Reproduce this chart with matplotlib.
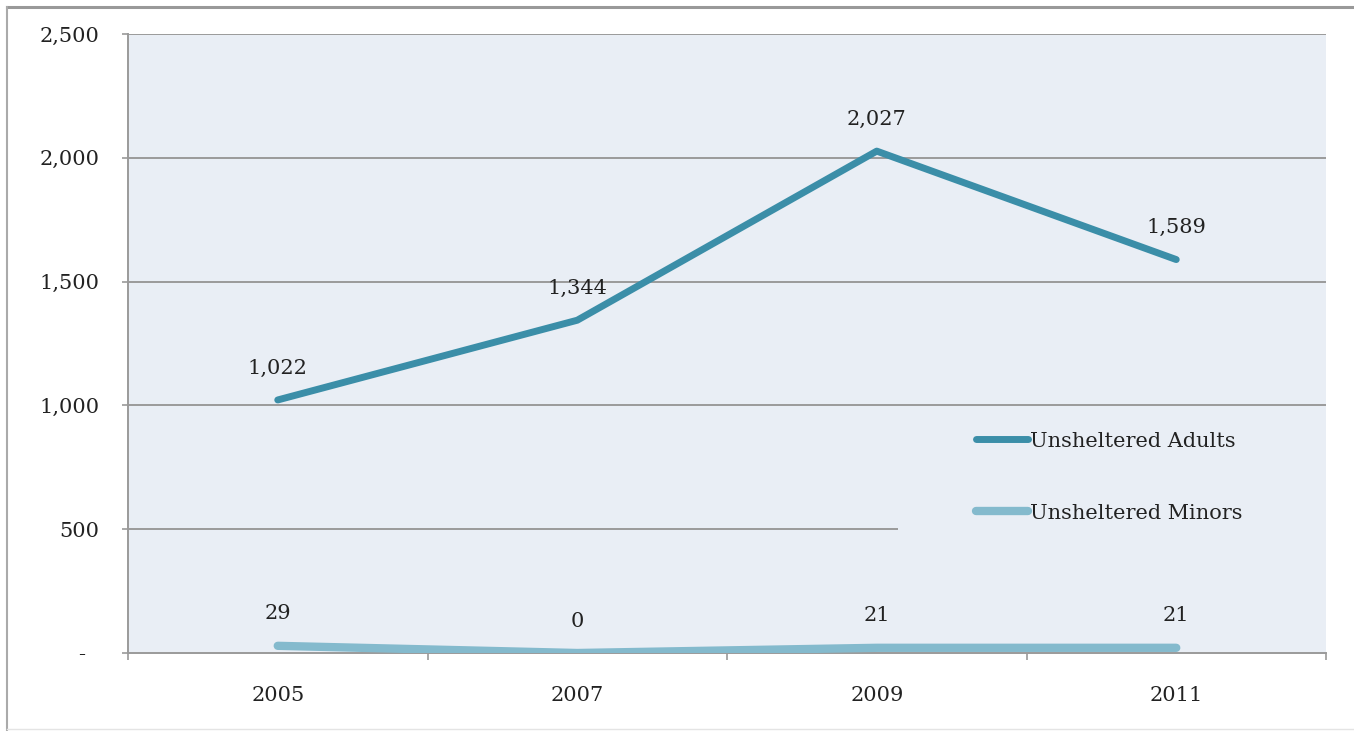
import matplotlib

matplotlib.use("Agg")
import matplotlib.pyplot as plt
from matplotlib.lines import Line2D
from matplotlib.patches import Rectangle

# ---------------------------------------------------------------------------
# data
# ---------------------------------------------------------------------------
years = ["2005", "2007", "2009", "2011"]
adults = [1022, 1344, 2027, 1589]
minors = [29, 0, 21, 21]
y_ticks = [0, 500, 1000, 1500, 2000, 2500]
y_tick_labels = ["-  ", "500", "1,000", "1,500", "2,000", "2,500"]

ADULT_C = "#3b8ea8"
MINOR_C = "#84bacd"
BG = "#e9eef5"
GRID = "#9a9a9a"
TXT = "#222222"

plt.rcParams["font.family"] = ["DejaVu Serif"]

W, H = 1354, 731
fig = plt.figure(figsize=(W / 100, H / 100), dpi=100)

# outer frame: top and left edges, faint bottom
fig.add_artist(Line2D([7 / W, 1.0], [1 - 7 / H, 1 - 7 / H], transform=fig.transFigure,
                      color="#999999", linewidth=2.2))
fig.add_artist(Line2D([7 / W, 7 / W], [0, 1 - 7 / H], transform=fig.transFigure,
                      color="#aaaaaa", linewidth=1.5))
fig.add_artist(Line2D([7 / W, 1.0], [2 / H, 2 / H], transform=fig.transFigure,
                      color="#e4e4e4", linewidth=1.0))

ax = fig.add_axes([128 / W, 1 - 653 / H, 1198 / W, 619 / H])
ax.set_facecolor(BG)

x = list(range(len(years)))
ax.set_xlim(-0.5, len(years) - 0.5)
ax.set_ylim(0, 2500)

for v in y_ticks[1:]:
    ax.axhline(v, color=GRID, linewidth=1.4, zorder=1)

# legend background patch hides the grid behind it
ax.add_patch(Rectangle((0.643, 0.13), 0.357, 0.262, transform=ax.transAxes,
                       facecolor=BG, edgecolor="none", zorder=1.5))

ax.plot(x, adults, color=ADULT_C, linewidth=5.0, solid_capstyle="round", zorder=3,
        label="Unsheltered Adults")
ax.plot(x, minors, color=MINOR_C, linewidth=6.0, solid_capstyle="round", zorder=3,
        label="Unsheltered Minors")

for xi, v in zip(x, adults):
    ax.annotate(f"{v:,}", (xi, v), xytext=(0, 23), textcoords="offset points",
                ha="center", va="center", fontsize=15, color=TXT)
for xi, v in zip(x, minors):
    ax.annotate(f"{v:,}", (xi, v), xytext=(0, 23), textcoords="offset points",
                ha="center", va="center", fontsize=15, color=TXT)

ax.set_yticks(y_ticks)
ax.set_yticklabels(y_tick_labels, fontsize=15, color=TXT)
ax.set_xticks(x)
ax.set_xticklabels(years, fontsize=15, color=TXT)
ax.set_xticks([i - 0.5 for i in range(len(years) + 1)], minor=True)
ax.tick_params(axis="x", which="major", length=0, pad=24)
ax.tick_params(axis="x", which="minor", length=5, color=GRID, width=1.2, direction="out")
ax.tick_params(axis="y", length=4.5, color=GRID, width=1.2, pad=16)

for s in ["top", "right"]:
    ax.spines[s].set_visible(False)
ax.spines["left"].set_color(GRID)
ax.spines["left"].set_linewidth(1.4)
ax.spines["bottom"].set_color(GRID)
ax.spines["bottom"].set_linewidth(1.4)

leg = ax.legend(loc="center left", bbox_to_anchor=(0.708, 0.284), frameon=False,
                fontsize=15, handlelength=2.5, handletextpad=0.1, labelspacing=2.55,
                borderpad=0, borderaxespad=0)
for t in leg.get_texts():
    t.set_color(TXT)

fig.savefig("out.png", dpi=100)
